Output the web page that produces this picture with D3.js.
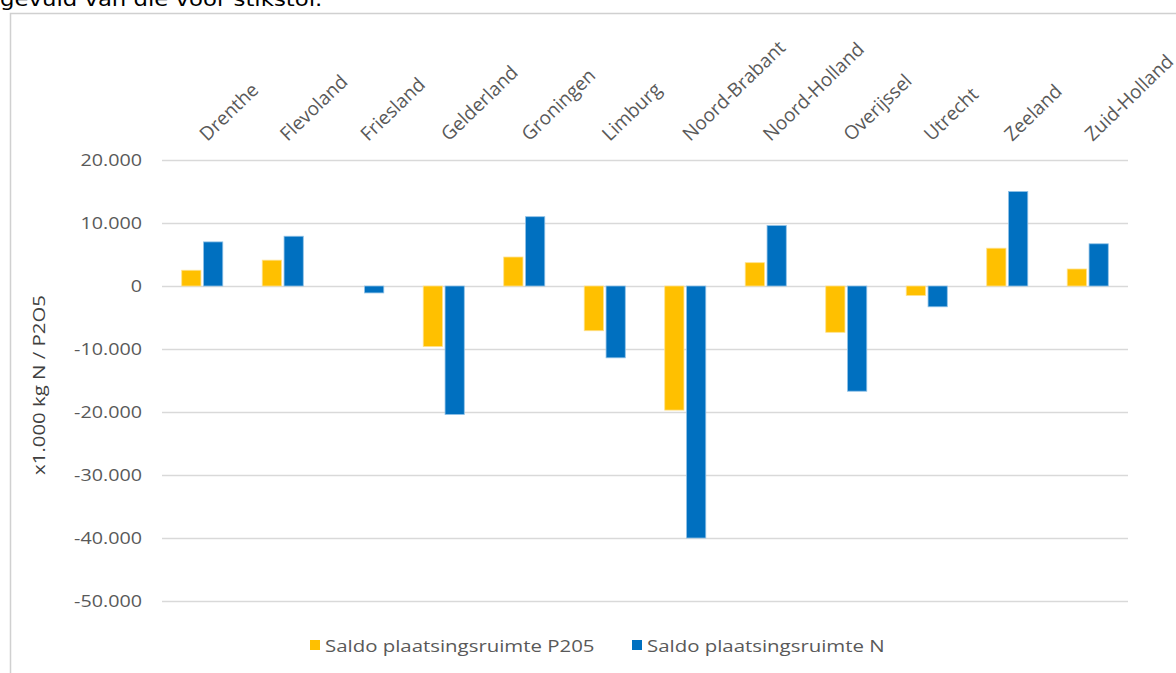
<!DOCTYPE html>
<html><head><meta charset="utf-8">
<script src="https://cdn.jsdelivr.net/npm/d3@7"></script>
<style>body{margin:0;background:#fff;} svg{display:block;}</style>
</head><body>
<svg id="c" width="1176" height="673"></svg>
<script>
const categories = ["Drenthe","Flevoland","Friesland","Gelderland","Groningen","Limburg","Noord-Brabant","Noord-Holland","Overijssel","Utrecht","Zeeland","Zuid-Holland"];
const p2o5 = [2500, 4100, 0, -9600, 4600, -7100, -19700, 3700, -7350, -1500, 6000, 2700];
const nitrogen = [7000, 7900, -1100, -20400, 11000, -11400, -40000, 9600, -16700, -3300, 15000, 6700];
const seriesNames = ["Saldo plaatsingsruimte P205", "Saldo plaatsingsruimte N"];
const colors = ["#FFC000", "#0070C0"];
const yTicks = [20000, 10000, 0, -10000, -20000, -30000, -40000, -50000];

(function(){
const svg = d3.select("#c");
const pl = 162, pr = 1128, pt = 160, pb = 601;
const fmt = v => v === 0 ? "0" : d3.format(",")(v).replace(/,/g, ".").replace("−", "-");

// heading fragment and frame
svg.append("text").attr("transform", "translate(0,6) scale(1.2,1)").attr("font-family", "DejaVu Sans, Verdana").attr("font-size", 19).attr("fill", "#000").text("gevuld van die voor stikstof.");
svg.append("rect").attr("x", 10.5).attr("y", 13.5).attr("width", 1200).attr("height", 700).attr("fill", "none").attr("stroke", "#d0d0d0").attr("stroke-width", 1.5);

const y = d3.scaleLinear().domain([-50000, 20000]).range([pb, pt]);
const x0 = d3.scaleBand().domain(categories).range([pl, pr]).paddingInner(0.49).paddingOuter(0.245);
const x1 = d3.scaleBand().domain([0, 1]).range([0, x0.bandwidth()]).paddingInner(0.12);

// gridlines
svg.append("g").selectAll("line").data(yTicks).join("line")
  .attr("x1", pl).attr("x2", pr).attr("y1", d => Math.round(y(d)) + 0.5).attr("y2", d => Math.round(y(d)) + 0.5)
  .attr("stroke", "#d9d9d9").attr("stroke-width", 1.3);

// y axis
const ya = svg.append("g").attr("transform", `translate(${pl - 20},0)`)
  .call(d3.axisLeft(y).tickValues(yTicks).tickFormat(fmt).tickSize(0));
ya.select(".domain").remove();
ya.selectAll("text").attr("font-family", "Open Sans").attr("font-size", 17).attr("fill", "#595959").attr("x", 0)
  .attr("transform", "scale(1.16,1)");

// y title
svg.append("text").attr("transform", `translate(45,385) rotate(-90) scale(1.2,1)`).attr("text-anchor", "middle")
  .attr("font-family", "Open Sans").attr("font-size", 17).attr("fill", "#404040").text("x1.000 kg N / P2O5");

// bars
const data = categories.map((c, i) => ({c, vals: [p2o5[i], nitrogen[i]]}));
const g = svg.append("g");
data.forEach(d => {
  d.vals.forEach((v, k) => {
    g.append("rect")
      .attr("x", x0(d.c) + x1(k))
      .attr("width", x1.bandwidth())
      .attr("y", y(Math.max(0, v)))
      .attr("height", Math.abs(y(v) - y(0)))
      .attr("fill", colors[k])
      .attr("stroke", k === 0 ? "#ffe08a" : "#8fc1e6").attr("stroke-width", 0.8);
  });
});

// category labels on top
const xa = svg.append("g").attr("transform", `translate(0,${pt})`)
  .call(d3.axisTop(x0).tickSize(0));
xa.select(".domain").remove();
xa.selectAll("text").attr("font-family", "Open Sans").attr("font-size", 19).attr("fill", "#595959")
  .attr("text-anchor", "start").attr("y", 0).attr("dy", 0)
  .attr("transform", "translate(5,-18) rotate(-44)");

// legend
const lg = svg.append("g");
const lx = [310, 632];
seriesNames.forEach((n, i) => {
  lg.append("rect").attr("x", lx[i]).attr("y", 640).attr("width", 10).attr("height", 10).attr("fill", colors[i]);
  lg.append("text").attr("transform", `translate(${lx[i] + 15},652) scale(1.2,1)`).attr("font-family", "Open Sans").attr("font-size", 17).attr("fill", "#595959").text(n);
});
})();
</script>
</body></html>
